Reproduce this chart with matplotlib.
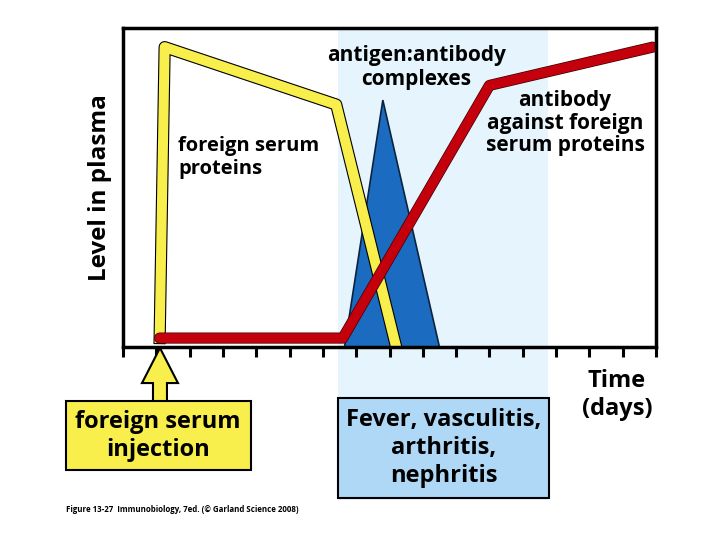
import matplotlib
matplotlib.use("Agg")
import matplotlib.pyplot as plt
import matplotlib.patheffects as pe
from matplotlib.patches import Rectangle, FancyArrow, Polygon

plt.rcParams['font.family'] = ['Open Sans', 'DejaVu Sans']
plt.rcParams['font.weight'] = 'bold'

# time in days, level in arbitrary units (0-10)
serum_t = [1.1, 1.25, 6.4, 8.2]
serum_y = [0.28, 9.4, 7.6, 0.0]

antibody_t = [1.1, 6.6, 11.0, 15.9]
antibody_y = [0.28, 0.28, 8.2, 9.4]

complex_t = [6.65, 7.8, 9.5]
complex_y = [0.0, 7.74, 0.0]

symptom_window = (6.45, 12.75)
days = list(range(0, 17))

YELLOW = '#f8ee4c'
RED = '#c4000c'
BLUE = '#1b6cc0'
SHADE = '#e5f4fd'
BOXBLUE = '#aed8f6'

fig = plt.figure(figsize=(7.2, 5.4), dpi=100)
ax = fig.add_axes([123/720, 1-347/540, 533/720, 319/540])
ax.set_xlim(0, 16)
ax.set_ylim(0, 10)

# light blue window behind the plot, running down into the symptom box
ax.add_patch(Rectangle((symptom_window[0], -4.8), symptom_window[1]-symptom_window[0], 14.8,
                       facecolor=SHADE, edgecolor='none', clip_on=False, zorder=0))

# antigen:antibody complexes
ax.add_patch(Polygon(list(zip(complex_t, complex_y)), closed=True, facecolor=BLUE,
                     edgecolor='#0a2440', lw=1.2, zorder=2))

outline = lambda w: [pe.Stroke(linewidth=w, foreground='black'), pe.Normal()]
ax.plot(serum_t, serum_y, color=YELLOW, lw=7.2, solid_joinstyle='round', zorder=3,
        path_effects=outline(8.8))
ax.plot(antibody_t, antibody_y, color=RED, lw=7, solid_capstyle='round', solid_joinstyle='round',
        zorder=4, path_effects=[pe.Stroke(linewidth=8, foreground='#3a0000'), pe.Normal()])

ax.text(1.65, 5.95, 'foreign serum\nproteins', fontsize=14.5, fontweight='bold', ha='left', va='center')
ax.text(8.8, 8.75, 'antigen:antibody\ncomplexes', fontsize=15, fontweight='bold', ha='center', va='center')
ax.text(13.27, 7.02, 'antibody\nagainst foreign\nserum proteins', fontsize=15, fontweight='bold',
        ha='center', va='center', linespacing=1.1)

ax.set_xticks(days)
ax.set_xticklabels([])
ax.set_yticks([])
ax.tick_params(axis='x', direction='out', length=7, width=2.2, color='black')
for s in ax.spines.values():
    s.set_linewidth(2.5)
    s.set_zorder(5)

ax.set_ylabel('Level in plasma', fontsize=17.5, fontweight='bold', labelpad=8)

# injection arrow and box
fig.patches.append(Rectangle((66/720, 1-470/540), 185/720, 69/540, transform=fig.transFigure,
                             facecolor=YELLOW, edgecolor='black', lw=1.5))
ax.add_patch(FancyArrow(1.11, -1.69, 0, 1.66, width=0.42, head_width=1.08, head_length=1.1,
                        length_includes_head=True, facecolor=YELLOW, edgecolor='black', lw=1.5,
                        clip_on=False, zorder=6))
# open the box top where the arrow shaft joins it
ax.add_patch(Rectangle((1.11 - 0.19, -1.76), 0.38, 0.12, facecolor=YELLOW, edgecolor='none',
                       clip_on=False, zorder=7))
fig.text(158/720, 1-436/540, 'foreign serum\ninjection', fontsize=17, fontweight='bold',
         ha='center', va='center')

fig.patches.append(Rectangle((338/720, 1-498/540), 211/720, 100/540, transform=fig.transFigure,
                             facecolor=BOXBLUE, edgecolor='black', lw=1.5))
fig.text(444/720, 1-448/540, 'Fever, vasculitis,\narthritis,\nnephritis', fontsize=17,
         fontweight='bold', ha='center', va='center')

fig.text(617/720, 1-395/540, 'Time\n(days)', fontsize=17, fontweight='bold', ha='center', va='center')
fig.text(66/720, 1-509/540, 'Figure 13-27  Immunobiology, 7ed. (\u00a9 Garland Science 2008)',
         fontsize=5.7, fontweight='bold', ha='left', va='center')

fig.savefig('out.png', dpi=100)
